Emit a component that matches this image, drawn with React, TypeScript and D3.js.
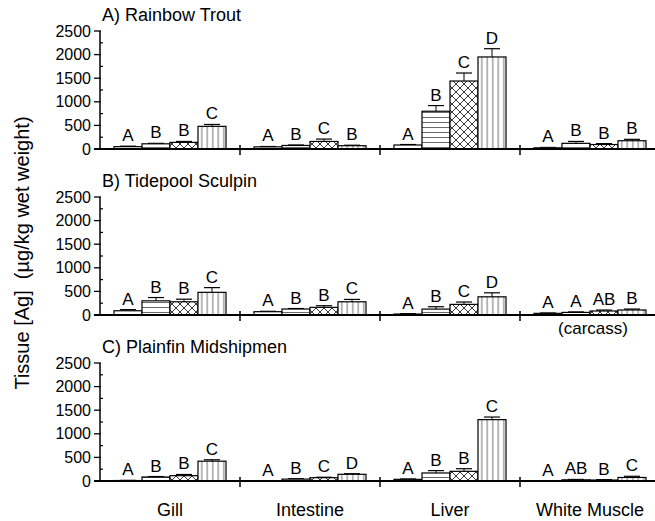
import React from "react";
import * as d3 from "d3";

const categories = ["Gill", "Intestine", "Liver", "White Muscle"];
const panelTitles = ["A) Rainbow Trout", "B) Tidepool Sculpin", "C) Plainfin Midshipmen"];
const treatments = ["t1", "t2", "t3", "t4"];
const yTicks = [0, 500, 1000, 1500, 2000, 2500];
const yMinorTicks = [250, 750, 1250, 1750, 2250];

// Rainbow trout (per category: 4 treatments)
const troutMeans = [[50, 110, 140, 480], [45, 75, 160, 70], [85, 800, 1440, 1950], [25, 120, 95, 175]];
const troutErrors = [[10, 10, 20, 40], [8, 10, 50, 10], [10, 120, 170, 175], [8, 40, 20, 30]];
const troutLetters = [["A", "B", "B", "C"], ["A", "B", "C", "B"], ["A", "B", "C", "D"], ["A", "B", "B", "B"]];

// Tidepool sculpin
const sculpinMeans = [[90, 300, 280, 480], [70, 127, 162, 280], [20, 125, 225, 385], [35, 55, 85, 106]];
const sculpinErrors = [[25, 70, 55, 100], [8, 10, 35, 50], [8, 50, 50, 85], [8, 10, 20, 20]];
const sculpinLetters = [["A", "B", "B", "C"], ["A", "B", "B", "C"], ["A", "B", "C", "D"], ["A", "A", "AB", "B"]];

// Plainfin midshipmen
const midshipMeans = [[10, 85, 113, 420], [5, 40, 70, 142], [35, 170, 205, 1300], [5, 25, 20, 75]];
const midshipErrors = [[3, 10, 25, 30], [3, 8, 10, 12], [8, 50, 55, 55], [3, 8, 8, 25]];
const midshipLetters = [["A", "B", "B", "C"], ["A", "B", "C", "D"], ["A", "B", "B", "C"], ["A", "AB", "B", "C"]];

const panelMeans = [troutMeans, sculpinMeans, midshipMeans];
const panelErrors = [troutErrors, sculpinErrors, midshipErrors];
const panelLetters = [troutLetters, sculpinLetters, midshipLetters];

const W = 655;
const H = 521;
const FONT = "'Liberation Sans', Arial, Helvetica, sans-serif";
const axisX = 100;
const axisRight = 660;
const panelBase = [149, 315, 481];
const panelHeight = 118;

const fills = ["#ffffff", "url(#hlines)", "url(#xhatch)", "url(#vlines)"];

export default function App() {
  const x = d3.scaleBand<string>().domain(categories).range([axisX, axisRight]).paddingInner(0).paddingOuter(0);
  const xInner = d3.scaleBand<string>().domain(treatments).range([14, x.bandwidth() - 14]).padding(0);

  return (
    <svg width={W} height={H} style={{ position: "absolute", left: 0, top: 0, background: "#fff" }} fontFamily={FONT}>
      <defs>
        <pattern id="hlines" patternUnits="userSpaceOnUse" width={6} height={5}>
          <rect width={6} height={5} fill="#fff" />
          <line x1={0} x2={6} y1={2.5} y2={2.5} stroke="#444" strokeWidth={0.8} />
        </pattern>
        <pattern id="vlines" patternUnits="userSpaceOnUse" width={5.5} height={6}>
          <rect width={5.5} height={6} fill="#fff" />
          <line x1={2.75} x2={2.75} y1={0} y2={6} stroke="#444" strokeWidth={0.8} />
        </pattern>
        <pattern id="xhatch" patternUnits="userSpaceOnUse" width={8} height={8}>
          <rect width={8} height={8} fill="#fff" />
          <path d="M0,0 L8,8 M8,0 L0,8" stroke="#222" strokeWidth={0.9} />
        </pattern>
      </defs>
      <rect width={W} height={H} fill="#fff" />

      {panelTitles.map((title, p) => {
        const base = panelBase[p];
        const y = d3.scaleLinear().domain([0, 2500]).range([base, base - panelHeight]);
        const means = panelMeans[p];
        const errs = panelErrors[p];
        const letters = panelLetters[p];
        return (
          <g key={title}>
            <text x={102} y={base - panelHeight - 10} fontSize={18} fill="#000">{title}</text>
            {categories.map((cat, ci) => (
              <g key={cat} transform={`translate(${x(cat)},0)`}>
                {treatments.map((t, ti) => {
                  const v = means[ci][ti];
                  const e = errs[ci][ti];
                  const bx = xInner(t)!;
                  const bw = xInner.bandwidth();
                  const cx = bx + bw / 2;
                  return (
                    <g key={t}>
                      <line x1={cx} x2={cx} y1={y(v)} y2={y(v + e)} stroke="#000" strokeWidth={1} />
                      <line x1={cx - 8} x2={cx + 8} y1={y(v + e)} y2={y(v + e)} stroke="#000" strokeWidth={1.2} />
                      <rect x={bx} y={y(v)} width={bw} height={base - y(v)} fill={fills[ti]} stroke="#000" strokeWidth={1.2} />
                      <text x={cx} y={y(v + e) - 5} textAnchor="middle" fontSize={17} fill="#000">{letters[ci][ti]}</text>
                    </g>
                  );
                })}
              </g>
            ))}
            <line x1={axisX} x2={axisX} y1={y(2500)} y2={base} stroke="#000" strokeWidth={1.5} />
            {yTicks.map((t) => (
              <g key={t}>
                <line x1={axisX - 6} x2={axisX + 1} y1={y(t)} y2={y(t)} stroke="#000" strokeWidth={1.3} />
                <text x={axisX - 9} y={y(t)} dy="0.35em" textAnchor="end" fontSize={16} fill="#000">{t}</text>
              </g>
            ))}
            {yMinorTicks.map((t) => (
              <line key={t} x1={axisX} x2={axisX + 3} y1={y(t)} y2={y(t)} stroke="#000" strokeWidth={1.2} />
            ))}
            <line x1={axisX - 6} x2={axisRight} y1={base} y2={base} stroke="#000" strokeWidth={1.8} />
            {categories.slice(1).map((cat) => (
              <line key={cat} x1={x(cat)!} x2={x(cat)!} y1={base - 4} y2={base + 6} stroke="#000" strokeWidth={1.5} />
            ))}
          </g>
        );
      })}

      <text x={593} y={334} textAnchor="middle" fontSize={17} fill="#000">(carcass)</text>

      {categories.map((cat) => (
        <text key={cat} x={x(cat)! + x.bandwidth() / 2} y={516} textAnchor="middle" fontSize={18} fill="#000">{cat}</text>
      ))}

      <text transform="translate(29,253) rotate(-90)" textAnchor="middle" fontSize={20} fill="#000">
        Tissue [Ag]{"\u00a0\u00a0"}(µg/kg wet weight)
      </text>
    </svg>
  );
}
